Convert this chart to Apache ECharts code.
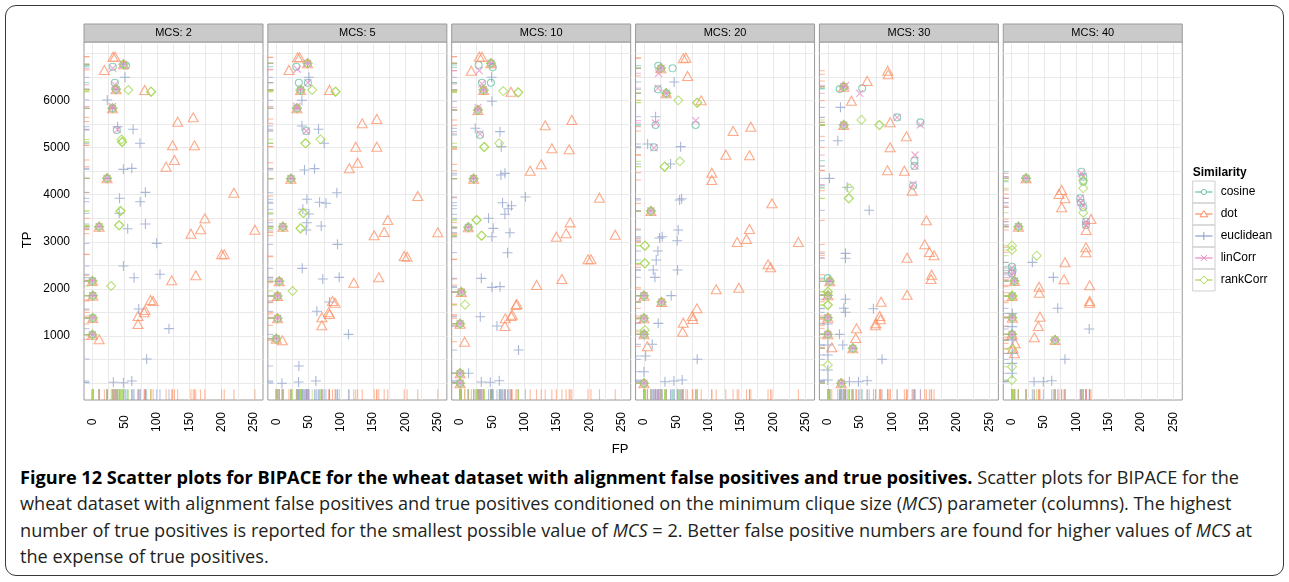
<!DOCTYPE html>
<html><head><meta charset="utf-8">
<script src="https://cdn.jsdelivr.net/npm/echarts@6/dist/echarts.min.js"></script>
<style>
html,body{margin:0;padding:0;background:#fff;width:1289px;height:582px;overflow:hidden;}
#frame{position:absolute;left:5px;top:5px;width:1279px;height:571px;border:1.5px solid #3a3a3a;border-radius:11px;box-sizing:border-box;}
#chart{position:absolute;left:0;top:0;width:1289px;height:462px;}
#caption{position:absolute;left:20px;top:464px;font-family:"Open Sans",Lato,sans-serif;font-size:17px;line-height:26.3px;color:#231f20;white-space:nowrap;}
#caption .ln{display:block;}
#caption .ln span{display:inline;}
#caption b{color:#000;font-weight:700;}
</style></head>
<body>
<div id="frame"></div>
<div id="chart"></div>
<div id="caption"><div class="ln"><span><b>Figure 12 Scatter plots for BIPACE for the wheat dataset with alignment false positives and true positives.</b> Scatter plots for BIPACE for the</span></div><div class="ln"><span id="refline">wheat dataset with alignment false positives and true positives conditioned on the minimum clique size (<i>MCS</i>) parameter (columns). The highest</span></div><div class="ln"><span>number of true positives is reported for the smallest possible value of <i>MCS</i> = 2. Better false positive numbers are found for higher values of <i>MCS</i> at</span></div><div class="ln"><span>the expense of true positives.</span></div></div>
<script>
// ---------- axis ticks ----------
const X_TICKS = [0, 50, 100, 150, 200, 250];
const X_GRID = [0, 25, 50, 75, 100, 125, 150, 175, 200, 225, 250];
const Y_TICKS = [1000, 2000, 3000, 4000, 5000, 6000];
const Y_GRID = [0, 500, 1000, 1500, 2000, 2500, 3000, 3500, 4000, 4500, 5000, 5500, 6000, 6500, 7000];
const X_RANGE = [-13, 264];
const Y_RANGE = [-356, 7238];
const MCS = [2, 5, 10, 20, 30, 40];
const MEASURES = ['cosine', 'dot', 'euclidean', 'linCorr', 'rankCorr'];

// ---------- data: [FP, TP] ----------
// points shared by all similarity measures
const common_2 = [[48,6765],[36.6,6234],[31,5831],[22.7,4346],[10.4,3320],[0,2168],[0.6,1857],[0.6,1383],[0,1029]];
const cosine_2 = [[31.5,6714],[34.6,6375],[52,6740],[37.7,5371]];
const dot_2 = [[32,6926],[35,6926],[18.5,6644],[81,6220],[132,5548],[156,5640],[124,5046],[158,5046],[127,4735],[114,4593],[219,4041],[174,3498],[167.5,3264],[152.5,3172],[251.5,3257],[200,2734],[204,2734],[160,2289],[122.7,2183],[90,1765],[94,1744],[81.5,1553],[80,1504],[70.6,1425],[70.6,1256],[10.4,931]];
const euclidean_2 = [[50.5,6489],[23,6008],[39,5441],[63,5386],[73.7,5089],[48,4537],[61,4558],[82,4049],[42,3922],[74,3850],[41.4,3604],[54.6,3278],[82,3377],[99.5,2967],[48,2486],[64.5,2238],[104.6,2310],[71.7,1574],[118.5,1157],[84,513],[32.5,19],[48,11],[61,47]];
const linCorr_2 = [[31.5,6680],[34.6,6330],[31,5870],[39,5380]];
const rankCorr_2 = [[90.7,6184],[90.7,6184],[55.6,6220],[46,5117],[46,5117],[45,5170],[43.4,3653],[43.4,3653],[41.4,3349],[41.4,3349],[29,2062]];

const common_5 = [[48.4,6786],[37.6,6220],[32,5831],[22.7,4339],[10.3,3320],[4.6,2161],[2,1850],[2,1377],[0,944]];
const cosine_5 = [[31,6714],[35,6375],[49,6375],[46.4,5350]];
const dot_5 = [[33,6913],[36,6913],[19.6,6644],[82.4,6220],[133,5513],[155.6,5604],[123,5018],[155.6,5018],[126,4677],[113,4558],[219,3971],[172.6,3462],[167,3208],[151.5,3137],[250,3201],[198,2698],[202.5,2684],[158.7,2246],[120,2132],[87,1744],[91,1708],[81,1504],[82.5,1468],[70.6,1398],[70.6,1228],[9.3,910]];
const euclidean_5 = [[50.5,6489],[39.7,6001],[39.7,5456],[65.4,5386],[74.2,5089],[43.7,4523],[59.2,4551],[93.8,4041],[47.4,3901],[67,3840],[77,3816],[41.2,3689],[50.5,3589],[47.3,3405],[69.6,3335],[46.4,3250],[94.8,2946],[40.2,2437],[72,2210],[97.4,2246],[82.4,1722],[62.9,1525],[111.8,1037],[35,365],[8.8,0],[34.5,25],[61.3,47]];
const linCorr_5 = [[32.5,6660],[32,5870],[46.4,5350],[49,6375]];
const rankCorr_5 = [[91.7,6184],[91.7,6184],[55.6,6220],[45.3,5089],[45.3,5089],[68.5,5174],[42,3610],[42,3610],[37.6,3285],[37.6,3285],[25.2,1956]];

const common_10 = [[47.7,6786],[36.3,6220],[27.6,5795],[20.9,4339],[12.7,3307],[1.9,1935],[0,1262],[0,210],[0,0]];
const cosine_10 = [[28.6,6750],[33.8,6375],[47.7,6375],[50.5,6700],[30.8,5265]];
const dot_10 = [[29.7,6926],[33.8,6926],[17.3,6629],[78.7,6184],[131.7,5471],[172.9,5584],[142,4983],[168.8,4961],[125.5,4643],[108.5,4508],[215.6,3935],[170.3,3412],[164,3180],[149,3108],[240,3151],[198,2628],[202.5,2628],[157.5,2210],[118.4,2083],[88,1680],[86.4,1659],[80.7,1453],[79,1426],[69.9,1377],[69.4,1213],[7,880]];
const euclidean_10 = [[48.7,6489],[49.3,5980],[23.5,5407],[61.7,5336],[63.7,5018],[63.2,4417],[69.4,4452],[101,3950],[65.7,3829],[79.6,3766],[74.5,3702],[69.4,3583],[44,3498],[51.3,3285],[77.1,3193],[49.2,3108],[73.4,2769],[32.8,2225],[49.3,2034],[61.7,2048],[31.2,1411],[57,1213],[90.4,704],[13.1,210],[32.8,25],[46.7,19],[60.6,53]];
const linCorr_10 = [[29.7,6629],[33.8,6350],[27.6,5852],[30.8,5290]];
const rankCorr_10 = [[90,6170],[90,6170],[66.8,6198],[37.4,5011],[37.4,5011],[60.6,5089],[25.5,3462],[25.5,3462],[33.2,3129],[33.2,3129],[7.6,1667]];

const common_20 = [[26.3,6680],[34.5,6150],[10.8,3653],[0,1857],[27.3,1722],[0,1377],[0,1037],[0,0]];
const cosine_20 = [[22.1,6735],[44.3,6680],[21.6,6234],[18,5477],[80,5477],[15.5,5004]];
const dot_20 = [[60.8,6892],[64.9,6905],[67.5,6517],[88.6,6001],[138,5350],[165.4,5442],[126.7,4848],[163.3,4834],[105,4466],[105,4311],[198,3816],[163.3,3271],[158.7,3059],[144.3,2995],[239,2995],[192,2522],[196,2459],[111.8,1992],[146.8,2026],[82,1589],[74.7,1426],[75.7,1362],[60.8,1284],[59.8,1092],[5.2,782]];
const euclidean_20 = [[46.8,6390],[18,5653],[5.7,5074],[56.7,5018],[41.2,4650],[55.2,3886],[58.3,3914],[53,3250],[24.2,3080],[28.3,3108],[51.5,3023],[21.6,2804],[19,2614],[14.4,2401],[17,2246],[52,2401],[42.2,1857],[22.1,1270],[12.8,825],[2.6,577],[82.4,507],[0,244],[32.5,32],[46.4,47],[59.2,68]];
const linCorr_20 = [[22.7,6574],[21.6,6260],[18,5520],[80,5569],[15.5,4990]];
const rankCorr_20 = [[82.4,5951],[82.4,5951],[53,6001],[32,4593],[32,4593],[55.6,4707],[1.5,2917],[1.5,2917],[1.5,2543],[1.5,2543],[1.5,1128]];

const common_30 = [[24.7,6290],[24.7,5477],[3,2161],[0,1864],[0,1390],[0,1037],[38.7,740],[20.7,0]];
const cosine_30 = [[18.5,6241],[53.2,6255],[107.3,5640],[143.3,5534],[134,4720],[134,4607],[132,4190],[0,2230]];
const dot_30 = [[92.7,6629],[93.4,6553],[60.9,6411],[36.6,5993],[96.4,5534],[121.6,5237],[96.4,5004],[92.3,4516],[118.5,4508],[130.4,4084],[152.5,3455],[150,2946],[157.2,2783],[164.4,2713],[122.7,2663],[160.7,2302],[159.8,2210],[122.7,1877],[82.5,1729],[80.4,1426],[81.5,1355],[74.2,1270],[73.7,1228],[44.4,1165],[43.3,959],[6.2,762]];
const euclidean_30 = [[19.6,5852],[15.5,5144],[2.6,4346],[30,4156],[64,3668],[27.4,2755],[27.4,2650],[27.4,1780],[24.7,1589],[27.4,1504],[70.6,1580],[0,1256],[18.1,1037],[23.2,810],[0,810],[0,598],[84,507],[0,280],[0,68],[33.5,32],[47.4,32],[60.9,53]];
const linCorr_30 = [[27.7,6320],[49.5,6150],[107.3,5640],[143.3,5480],[135,4841],[135,4607],[132,4215]];
const rankCorr_30 = [[79.9,5477],[79.9,5477],[52.1,5584],[33.5,4134],[32.5,3922],[32.5,3922],[0,1941],[0,1941],[0,1659],[0,1659],[0,386]];

const common_40 = [[22.3,4346],[10.4,3320],[4.2,2168],[1,1850],[1,1390],[0.6,1037],[67.1,916]];
const cosine_40 = [[108,4487],[110.8,4381],[110.8,4275],[106.2,3922],[107.3,3829],[110.8,3731],[115,3426],[115,3356],[0.5,2470],[1.5,2390],[0.5,2330]];
const dot_40 = [[77.4,4098],[73.3,4013],[82.5,3922],[77.4,3731],[122.7,3483],[115.4,3250],[115,2883],[115,2777],[82.5,2564],[81,2204],[120.7,2077],[42.4,2048],[42.8,1920],[120.7,1744],[120.7,1708],[43.9,1411],[41.3,1213],[35.1,974],[5.3,846],[4.2,634],[2,740]];
const euclidean_40 = [[32,2564],[64.5,2246],[71.3,1589],[120,1150],[82.5,507],[34.6,32],[49,32],[62,53],[1,1480],[1,1200],[1,920],[1,630],[1,420],[1,210]];
const linCorr_40 = [[108,4450],[110.8,4381],[106.2,3922],[107.3,3829],[110.8,3760],[115,3426],[115,3356],[0.5,2440],[1.5,2350],[0.5,2300]];
const rankCorr_40 = [[0.5,2917],[0.5,2826],[38.8,2705],[110.8,4134],[110.8,3617],[110.8,4300],[0.5,1850],[0.5,1850],[0.5,719],[0.5,350],[0.5,68]];

const PANELS = [
  {common: common_2, cosine: cosine_2, dot: dot_2, euclidean: euclidean_2, linCorr: linCorr_2, rankCorr: rankCorr_2},
  {common: common_5, cosine: cosine_5, dot: dot_5, euclidean: euclidean_5, linCorr: linCorr_5, rankCorr: rankCorr_5},
  {common: common_10, cosine: cosine_10, dot: dot_10, euclidean: euclidean_10, linCorr: linCorr_10, rankCorr: rankCorr_10},
  {common: common_20, cosine: cosine_20, dot: dot_20, euclidean: euclidean_20, linCorr: linCorr_20, rankCorr: rankCorr_20},
  {common: common_30, cosine: cosine_30, dot: dot_30, euclidean: euclidean_30, linCorr: linCorr_30, rankCorr: rankCorr_30},
  {common: common_40, cosine: cosine_40, dot: dot_40, euclidean: euclidean_40, linCorr: linCorr_40, rankCorr: rankCorr_40}
];

// ---------- styling ----------
const COLORS = {cosine: '#66C2A5', dot: '#FC8D62', euclidean: '#8DA0CB', linCorr: '#E78AC3', rankCorr: '#A6D854'};
const SYMBOLS = {
  cosine: {symbol: 'circle', size: 7},
  dot: {symbol: 'triangle', size: [10, 9]},
  euclidean: {symbol: 'path://M5,0L5,10M0,5L10,5', size: 10},
  linCorr: {symbol: 'path://M0,0L10,10M10,0L0,10', size: 7},
  rankCorr: {symbol: 'diamond', size: [9, 9]}
};
const FONT = '"Liberation Sans", Arial, sans-serif';
const P_LEFT = 84, P_STEP = 183.85, P_W = 179, P_TOP = 42, P_H = 358, STRIP_H = 18;
const plainNum = v => String(Math.round(v));

const grids = [], xAxes = [], yAxes = [], series = [], graphics = [];
PANELS.forEach((panel, i) => {
  const left = P_LEFT + i * P_STEP;
  grids.push({left: left, top: P_TOP, width: P_W, height: P_H, show: true,
    borderColor: '#9a9a9a', borderWidth: 1, backgroundColor: '#fff', outerBoundsMode: 'none', containLabel: false});
  xAxes.push({type: 'value', gridIndex: i, min: X_RANGE[0], max: X_RANGE[1],
    axisLine: {show: false}, splitLine: {show: false},
    axisTick: {show: true, customValues: X_TICKS, length: 6, inside: false, lineStyle: {color: '#333', width: 1}},
    axisLabel: {show: true, customValues: X_TICKS, formatter: plainNum, rotate: 90, align: 'center', verticalAlign: 'middle',
      margin: 22, fontSize: 12, color: '#000', fontFamily: FONT}});
  yAxes.push({type: 'value', gridIndex: i, min: Y_RANGE[0], max: Y_RANGE[1],
    axisLine: {show: false}, splitLine: {show: false},
    axisTick: {show: i === 0, customValues: Y_TICKS, length: 6, inside: false, lineStyle: {color: '#333', width: 1}},
    axisLabel: {show: i === 0, customValues: Y_TICKS, formatter: plainNum, margin: 14, fontSize: 12, color: '#000', fontFamily: FONT}});

  // strip header
  graphics.push({type: 'rect', shape: {x: left, y: P_TOP - STRIP_H, width: P_W, height: STRIP_H},
    style: {fill: '#cacaca', stroke: '#9a9a9a', lineWidth: 1}, z: 10});
  graphics.push({type: 'text', x: left + P_W / 2, y: P_TOP - STRIP_H / 2,
    style: {text: 'MCS: ' + MCS[i], fill: '#000', font: '11px ' + FONT, textAlign: 'center', textVerticalAlign: 'middle'}, z: 11});

  MEASURES.forEach((m, k) => {
    const pts = panel.common.concat(panel[m]);
    const col = COLORS[m];
    const s = {
      type: 'scatter', name: m, xAxisIndex: i, yAxisIndex: i, data: pts,
      symbol: SYMBOLS[m].symbol, symbolSize: SYMBOLS[m].size,
      itemStyle: {color: 'rgba(0,0,0,0)', borderColor: col, borderWidth: 1.1, opacity: 0.75},
      emphasis: {disabled: true}, silent: true, animation: false, z: 3, clip: false
    };
    if (k === 0) {
      s.markLine = {silent: true, symbol: ['none', 'none'], label: {show: false}, z: 1, animation: false,
        lineStyle: {color: '#e9e9e9', width: 1, type: 'solid'}, emphasis: {disabled: true},
        data: X_GRID.map(v => ({xAxis: v})).concat(Y_GRID.map(v => ({yAxis: v})))};
    }
    series.push(s);
    // bottom rug (FP)
    series.push({type: 'scatter', name: m + ' FP rug', xAxisIndex: i, yAxisIndex: i,
      data: pts.map(d => [d[0], Y_RANGE[0]]), symbol: 'rect', symbolSize: [1, 10.7], symbolOffset: [0, '-50%'],
      itemStyle: {color: col, opacity: 0.65}, emphasis: {disabled: true}, silent: true, animation: false, z: 2, clip: false});
    // left rug (TP)
    series.push({type: 'scatter', name: m + ' TP rug', xAxisIndex: i, yAxisIndex: i,
      data: pts.map(d => [X_RANGE[0], d[1]]), symbol: 'rect', symbolSize: [5.4, 1], symbolOffset: ['50%', 0],
      itemStyle: {color: col, opacity: 0.65}, emphasis: {disabled: true}, silent: true, animation: false, z: 2, clip: false});
  });
});

// axis titles
graphics.push({type: 'text', x: 27, y: 240, rotation: Math.PI / 2,
  style: {text: 'TP', fill: '#000', font: '13px ' + FONT, textAlign: 'center', textVerticalAlign: 'middle'}});
graphics.push({type: 'text', x: 620, y: 449,
  style: {text: 'FP', fill: '#000', font: '13px ' + FONT, textAlign: 'center', textVerticalAlign: 'middle'}});

// legend (key)
const KEY_X = 1192.7, KEY_Y = 181, KEY_W = 22.3, KEY_H = 22;
graphics.push({type: 'text', x: KEY_X, y: 173,
  style: {text: 'Similarity', fill: '#000', font: 'bold 12px ' + FONT, textAlign: 'left', textVerticalAlign: 'middle'}});
MEASURES.forEach((m, k) => {
  const y0 = KEY_Y + k * KEY_H, cy = y0 + KEY_H / 2, cx = KEY_X + KEY_W / 2, col = COLORS[m];
  graphics.push({type: 'rect', shape: {x: KEY_X, y: y0, width: KEY_W, height: KEY_H}, style: {fill: 'none', stroke: '#cfcfcf', lineWidth: 1}});
  graphics.push({type: 'line', shape: {x1: KEY_X + 2.5, y1: cy, x2: KEY_X + KEY_W - 2.5, y2: cy}, style: {stroke: col, lineWidth: 1.2}});
  let sym;
  if (m === 'cosine') sym = {type: 'circle', shape: {cx: cx, cy: cy, r: 2.6}};
  else if (m === 'dot') sym = {type: 'polygon', shape: {points: [[cx, cy - 3.5], [cx + 3.8, cy + 2.8], [cx - 3.8, cy + 2.8]]}};
  else if (m === 'euclidean') sym = {type: 'polyline', shape: {points: [[cx, cy - 4], [cx, cy + 4]]}};
  else if (m === 'linCorr') sym = {type: 'group', children: [
    {type: 'line', shape: {x1: cx - 3, y1: cy - 3, x2: cx + 3, y2: cy + 3}, style: {stroke: col, lineWidth: 1}},
    {type: 'line', shape: {x1: cx - 3, y1: cy + 3, x2: cx + 3, y2: cy - 3}, style: {stroke: col, lineWidth: 1}}]};
  else sym = {type: 'polygon', shape: {points: [[cx, cy - 4], [cx + 4, cy], [cx, cy + 4], [cx - 4, cy]]}};
  if (sym.type !== 'group') sym.style = {fill: '#fff', stroke: col, lineWidth: 1};
  graphics.push(sym);
  graphics.push({type: 'text', x: KEY_X + 28, y: cy,
    style: {text: m, fill: '#000', font: '12px ' + FONT, textAlign: 'left', textVerticalAlign: 'middle'}});
});

const chart = echarts.init(document.getElementById('chart'), null, {renderer: 'canvas'});
chart.setOption({
  animation: false,
  backgroundColor: 'transparent',
  grid: grids, xAxis: xAxes, yAxis: yAxes, series: series,
  graphic: {elements: graphics}
});

// fit caption font size so the second line spans the reference width
(function fitCaption() {
  const cap = document.getElementById('caption');
  const ref = document.getElementById('refline');
  const target = 1212;
  const w = ref.getBoundingClientRect().width;
  if (w > 0) {
    const fs = parseFloat(getComputedStyle(cap).fontSize);
    cap.style.fontSize = (fs * target / w).toFixed(2) + 'px';
  }
})();
</script>
</body></html>
